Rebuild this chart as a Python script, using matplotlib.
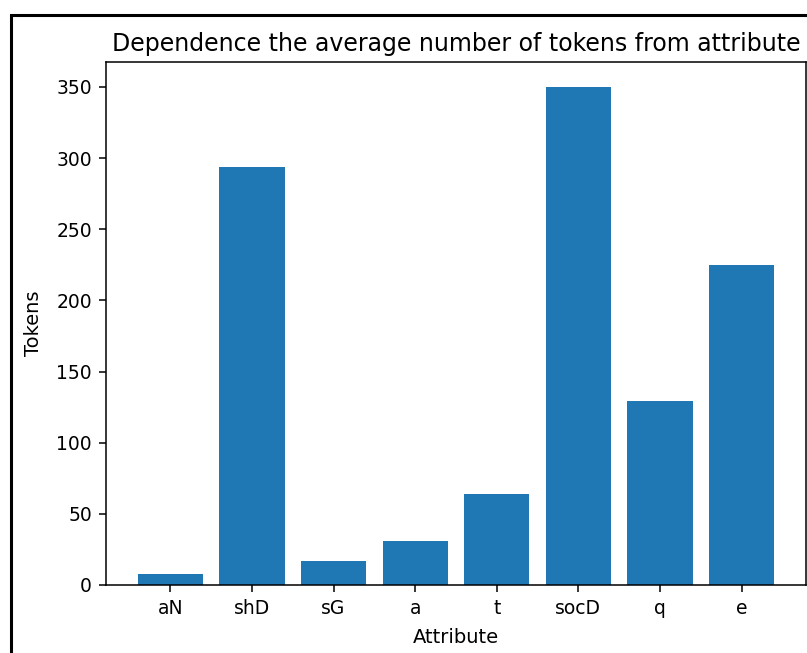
import matplotlib
matplotlib.use('Agg')
import matplotlib.pyplot as plt
from matplotlib.patches import Rectangle

# average number of tokens per attribute
attributes = ['aN', 'shD', 'sG', 'a', 't', 'socD', 'q', 'e']
tokens = [8, 294, 17, 31, 64, 350, 129, 225]

plt.rcParams['font.size'] = 13.5
plt.rcParams['axes.linewidth'] = 1.1
plt.rcParams['xtick.major.size'] = 5
plt.rcParams['ytick.major.size'] = 5
plt.rcParams['xtick.major.width'] = 1.1
plt.rcParams['ytick.major.width'] = 1.1
plt.rcParams['xtick.major.pad'] = 5
plt.rcParams['ytick.major.pad'] = 5

fig = plt.figure(figsize=(8.07, 6.53), dpi=100)
ax = fig.add_axes([106/807, 1-585/653, 700/807, (585-62)/653])
ax.bar(attributes, tokens, color='#1f77b4')
ax.set_title("Dependence the average number of tokens from attribute", fontsize=17, pad=8)
ax.set_xlabel("Attribute", fontsize=14, labelpad=7)
ax.set_ylabel("Tokens", fontsize=14, labelpad=10)
ax.set_yticks([0, 50, 100, 150, 200, 250, 300, 350])

# black frame around the screenshot
fig.patches.append(Rectangle((10.5/807, -0.1), 1.2, 1.1 - 15/653, transform=fig.transFigure,
                             fill=False, edgecolor='black', linewidth=2.2))

plt.savefig('out.png', dpi=100)
